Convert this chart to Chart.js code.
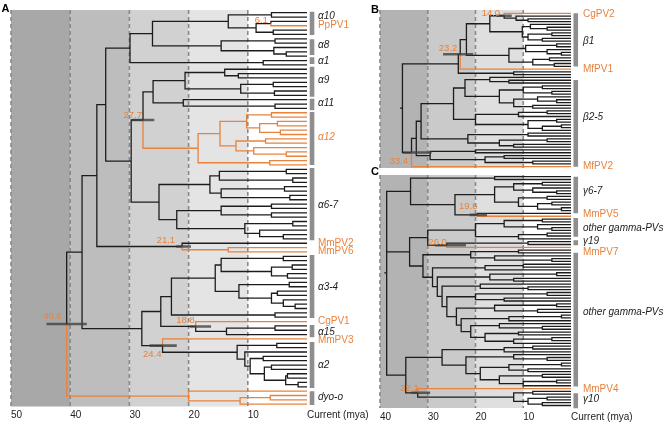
<!DOCTYPE html>
<html><head><meta charset="utf-8">
<script src="https://cdn.jsdelivr.net/npm/chart.js@4.4.1/dist/chart.umd.min.js"></script>
<style>
html,body{margin:0;padding:0;background:#fff;}
#wrap{position:relative;width:666px;height:422px;}
canvas{position:absolute;left:0;top:0;width:666px;height:422px;}
</style></head><body>
<div id="wrap">
<canvas id="cA" width="666" height="422"></canvas>
<canvas id="cB" width="666" height="422"></canvas>
<canvas id="cC" width="666" height="422"></canvas>
</div>
<script>
// ================= DATA =================
// Newick-like subtrees: a = leaf, o = highlighted (orange) leaf,
// number after ')' = node age (mya), '*' = dated node shown with its age.
const A_a10  = "((a,a)6.0,((a,o)6.1*,(a,a)5.7)8.6)13.3";
const A_a8   = "((a,a)5.4,(a,(a,a)3.5)5.6)14.5";
const A_a1   = "(a,a)7.4";
const A_a9   = "((a,(a,a)11.6)13.9,((a,a)5.7,(a,a)5.5)11.2)20.6";
const A_a11  = "(a,(a,a)5.4)20.9";
const A_a12  = "((((o,o)6,((o,o)5,(o,o)4.5)8)10.2,((o,o)7,(o,(o,o)3.5)9)12)14.7,(o,o)6.3)18.4";
const A_a67  = "((((a,a)3.5,(a,a)2.4)14.8,((a,a)3.8,(a,a)2.9)14.5)16.4,(((a,a)6,(a,a)6)14.5,((a,a)2.4,(a,(a,a)4)8)10.5)22)25";
const A_mm26 = "(a,(o,o)13.3)21.1*";
const A_a34  = "((((a,a)4,((a,a)2.5,(a,a)3.3)6)14.5,((a,a)3,((a,a)5,(a,(a,a)2)4)6)11.5)15.5,(a,a)5.4)22.9";
const A_cg1  = "(o,((a,a)5.4,a)13.6)18.8*";
const A_a2   = "((a,a)5.1,(a,((a,a)7.4,((a,a)6,((a,a)3.3,(a,a)1.5)3.6)7.2)9.6)10.5)11.8";
const A_dyo  = "(o,((o,o)6.2,o)11.3)20";
const treeA = `((((((${A_a10},${A_a8})26.1,${A_a1})29.9,(((${A_a9},${A_a11})26.0,${A_a12})27.7*,${A_a67})29.7)34.0,${A_mm26})35.5,((${A_a34},${A_cg1})24.7,(o,${A_a2})24.4*)27.9)38.0,${A_dyo})40.6*`;

const B_b1top = "((o,(a,(a,a)9)11.5)14.0*,((a,(a,a)5)8.5,((a,a)4,(a,a)6)9)10.2)17";
const B_b1bot = "(((a,a)3,(a,(a,a)2)5)9.5,((a,a)4.5,(a,a)3.5)8)13";
const B_bx    = "(a,a)12";
const B_n22   = "((a,(a,a)13)17,(((a,a)6,(a,a)4)10,((a,(a,a)3)7,(a,a)8)12)15)22.2";
const B_x20   = "(((a,a)5,a)11,((a,a)3,((a,a)2,a)6)9)20";
const B_k21   = "((a,a)9,((a,a)5,(a,a)12)15)21.6";
const B_bot   = "((a,a)20,((a,a)14,(a,a)8)18)29.5";
const treeB = `((((${B_b1top},${B_b1bot})21.9,o)23.2*,${B_bx})23.6,((((${B_n22},${B_x20})24.6,${B_k21})31.4,${B_bot})32.4,o)33.4*)35.3`;

const C_cu    = "((a,a)16,((((a,a)6,(a,(a,a)3)8)12,((a,a)5,((a,a)4,(a,a)2)7)11)16,(a,o)19.6*)24.3)33.6";
const C_oth   = "(((a,a)6,(a,(a,a)4)7)14,((a,a)5,a)11)20";
const C_g1    = `(${C_oth},((a,a)9,o)26.0*)30`;
// ladder of gamma-PV lineages (top to bottom) and the ages of the ladder nodes
const C_ladderClades = ["((a,a)11,(a,(a,a)4)16)21","((a,a)10,a)18","((a,a)3,(a,a)12)17","(a,(a,a)9)19","((a,a)5,(a,a)14)20",
                        "((a,a)3,(a,a)7)16","((a,a)2,a)13","(a,(a,a)6)15","(a,a)11","((a,a)4,a)12"];
const C_ladderAges   = [31,29,28,27,26,24,23,21,18];
const C_bm    = "(((a,a)8,a)14,((a,(a,a)5)12,(((a,a)2,(a,a)9)13,((a,a)6,((a,a)3,a)10)15)19)22)27";
const C_g10   = "((a,a)8,((a,a)5,(a,a)6)9)12";

// time axis
const ticksA = [50,40,30,20,10,0];
const tickLabelsA = ['50','40','30','20','10','Current (mya)'];
const ticksBC = [40,30,20,10,0];
const tickLabelsBC = ['40','30','20','10','Current (mya)'];

// dated nodes: age label, 95% HPD (older, younger)
const datedA = ['40.6','27.7','24.4','21.1','18.8','6.1'];
const hpdHiA = [44.0,29.6,26.6,22.1,19.8,null];
const hpdLoA = [37.2,25.8,22.0,19.6,16.2,null];
const datedB = ['14.0','23.2','33.4'];
const hpdHiB = [15.6,26.8,35.2];
const hpdLoB = [12.4,20.5,29.2];
const datedC = ['19.6','26.0','32.1'];
const hpdHiC = [21.2,28.5,33.4];
const hpdLoC = [17.6,22.0,29.5];

// group labels (position in leaf rows), kind: c = clade, p = highlighted PV, co = highlighted clade
const groupNamesA = ['α10','PpPV1','α8','α1','α9','α11','α12','α6-7','MmPV2','MmPV6','α3-4','CgPV1','α15','MmPV3','α2','dyo-o'];
const groupAtA    = [0.87,2.94,7.4,11.1,15.5,20.75,28.6,44.2,52.9,54.8,63.1,70.9,73.4,75.2,81,88.4];
const groupKindA  = ['c','p','c','c','c','c','co','c','p','p','c','p','c','p','c','c'];
const barFromA = [-0.23,6.1,10.25,12.4,19.8,22.8,35.7,55.7,71.8,75.7,87];
const barToA   = [5.13,9.7,11.8,19.3,22.4,35.0,52.3,70.2,74.6,86.3,90.2];

const groupNamesB = ['CgPV2','β1','MfPV1','β2-5','MfPV2'];
const groupAtB    = [0.25,9.9,20,37.2,54.7];
const groupKindB  = ['p','c','p','c','p'];
const barFromB = [0,23.9];
const barToB   = [19.1,55];

const groupNamesC = ['γ6-7','MmPV5','other gamma-PVs','γ19','MmPV7','other gamma-PVs','MmPV4','γ10'];
const groupAtC    = [5,13.4,18.3,23.0,26.9,47.8,75.3,78.8];
const groupKindC  = ['c','p','c','c','p','c','p','c'];
const barFromC = [0,14.6,22.5,26.9,76.7];
const barToC   = [12.96,21.3,24.3,74.3,82];

// ================= RENDERING =================
const ORANGE = '#e8823c', INK = '#1c1c1c', FONT = '"Liberation Sans", Arial, Helvetica, sans-serif';
Chart.defaults.font.family = FONT;

function ladder(clades, ages){
  let s = clades[clades.length-1];
  for (let k = clades.length-2; k >= 0; k--) s = `(${clades[k]},${s})${ages[k]}`;
  return s;
}
const C_m2 = ladder(C_ladderClades, C_ladderAges);
const treeC = `(${C_cu},(${C_g1},${C_m2})33.8,(${C_bm},(o,${C_g10})32.1*)34.6)38.6`;

function parseTree(src){
  const s = src.replace(/\s+/g,'');
  let i = 0, n = 0;
  function node(){
    if (s[i] === '('){
      i++;
      const kids = [];
      for(;;){
        kids.push(node());
        if (s[i] === ','){ i++; continue; }
        if (s[i] === ')'){ i++; break; }
        throw new Error('bad tree at ' + i);
      }
      let num = '';
      while (i < s.length && /[0-9.]/.test(s[i])) num += s[i++];
      let dated = false;
      if (s[i] === '*'){ dated = true; i++; }
      return { kids, age: parseFloat(num), label: num, dated,
        y: kids.reduce((t,k)=>t+k.y,0)/kids.length,
        orange: kids.every(k=>k.orange) };
    }
    const c = s[i++];
    return { leaf:true, age:0, y:n++, orange: c === 'o' };
  }
  const root = node();
  root.count = n;
  return root;
}

function gap(){ return {x:null,y:null}; }

function buildMarks(root, dated, hi, lo, stem){
  const black=[], orange=[], hpd=[], datedNodes=[];
  (function walk(nd){
    if (nd.leaf) return;
    for (const k of nd.kids){
      const arr = k.orange ? orange : black;
      arr.push({x:nd.age,y:nd.y},{x:nd.age,y:k.y},{x:k.age,y:k.y},gap());
      walk(k);
    }
    if (nd.dated){
      const j = dated.indexOf(nd.label);
      datedNodes.push({node:nd, j});
      if (j >= 0 && hi[j] != null) hpd.push({x:hi[j],y:nd.y},{x:lo[j],y:nd.y},gap());
    }
  })(root);
  if (stem) (root.orange?orange:black).push({x:root.age+stem,y:root.y},{x:root.age,y:root.y},gap());
  return {black, orange, hpd, datedNodes};
}

function makePanel(cfg){
  const root = parseTree(cfg.tree);
  const m = buildMarks(root, cfg.dated, cfg.hpdHi, cfg.hpdLo, cfg.rootStem);
  const bars = [];
  cfg.barFrom.forEach((f,i)=>bars.push({x:cfg.barX,y:f},{x:cfg.barX,y:cfg.barTo[i]},gap()));

  const deco = {
    id: 'deco' + cfg.canvas,
    beforeDatasetsDraw(chart){
      const {ctx, chartArea:a, scales:{x}} = chart;
      ctx.save();
      cfg.eras.forEach((e,i)=>{
        const x1 = x.getPixelForValue(e[0]), x2 = x.getPixelForValue(e[1]);
        ctx.fillStyle = cfg.eraCols[i];
        ctx.fillRect(x1, a.top, x2-x1, a.bottom-a.top);
      });
      ctx.strokeStyle = '#898989'; ctx.lineWidth = 1.6; ctx.setLineDash([4,3]);
      cfg.dashes.forEach(v=>{
        const px = x.getPixelForValue(v);
        ctx.beginPath(); ctx.moveTo(px, a.top); ctx.lineTo(px, a.bottom); ctx.stroke();
      });
      ctx.restore();
    },
    afterDatasetsDraw(chart){
      const {ctx, scales:{x,y}} = chart;
      ctx.save();
      ctx.textBaseline = 'middle'; ctx.textAlign = 'left';
      cfg.groupNames.forEach((t,i)=>{
        const k = cfg.groupKind[i];
        ctx.font = (k === 'p' ? '' : 'italic ') + '10px ' + FONT;
        ctx.fillStyle = k === 'c' ? INK : ORANGE;
        ctx.fillText(t, x.getPixelForValue(cfg.labelX), y.getPixelForValue(cfg.groupAt[i]));
      });
      ctx.font = '9.5px ' + FONT; ctx.fillStyle = ORANGE; ctx.textAlign = 'right';
      m.datedNodes.forEach(({node,j})=>{
        const off = cfg.datedOff[j] || [0,0];
        ctx.fillText(node.label, x.getPixelForValue(node.age)+off[0], y.getPixelForValue(node.y)+off[1]);
      });
      cfg.letters.forEach(L=>{
        ctx.font = 'bold 11px ' + FONT; ctx.fillStyle = '#000'; ctx.textAlign = 'left'; ctx.textBaseline = 'alphabetic';
        ctx.fillText(L.t, L.x, L.y);
      });
      ctx.restore();
    }
  };

  const xScale = {
    type:'linear', reverse:true, min:0, max:cfg.xmax,
    display: !!cfg.ticks,
    grid:{display:false, drawTicks:false}, border:{display:false},
    ticks:{ autoSkip:false, maxRotation:0, minRotation:0, align:'start', padding:3, color:'#222', font:{size:10, family:FONT},
      callback:(v)=>{ const k = cfg.ticks ? cfg.ticks.indexOf(v) : -1; return k>=0 ? cfg.tickLabels[k] : ''; } },
    afterBuildTicks:(s)=>{ if (cfg.ticks) s.ticks = cfg.ticks.map(v=>({value:v})); },
    afterFit:(s)=>{ if (cfg.axisH) s.height = cfg.axisH; }
  };

  return new Chart(document.getElementById(cfg.canvas), {
    type:'line',
    data:{ datasets:[
      {data:m.hpd, borderColor:'rgba(62,62,62,0.78)', borderWidth:2.6, pointRadius:0},
      {data:bars, borderColor:'#8e8e8e', borderWidth:4.6, pointRadius:0, clip:false},
      {data:m.orange, borderColor:ORANGE, borderWidth:1.3, pointRadius:0},
      {data:m.black, borderColor:INK, borderWidth:1.3, pointRadius:0}
    ]},
    options:{
      responsive:false, animation:false, devicePixelRatio:1, events:[],
      layout:{padding:cfg.pad},
      plugins:{legend:{display:false}, tooltip:{enabled:false}},
      elements:{ line:{tension:0, fill:false, borderJoinStyle:'miter', borderCapStyle:'butt', spanGaps:false}, point:{radius:0} },
      scales:{ x:xScale, y:{type:'linear', display:false, reverse:true, min:cfg.ymin, max:cfg.ymax} }
    },
    plugins:[deco]
  });
}

makePanel({ canvas:'cA', tree:treeA, xmax:50, ymin:-0.62, ymax:90.53,
  pad:{left:11,right:359,top:10,bottom:0}, axisH:15.5, ticks:ticksA, tickLabels:tickLabelsA,
  eras:[[50,40],[40,30],[30,20],[20,10]], eraCols:['#a8a8a8','#bdbdbd','#d1d1d1','#e4e4e4'], dashes:[50,40,30,20,10],
  dated:datedA, hpdHi:hpdHiA, hpdLo:hpdLoA, datedOff:[[-5,-7.5],[-1,-5],[-1,8.5],[-7,-6.5],[-1,-6.5],[-3,-3.6]],
  groupNames:groupNamesA, groupAt:groupAtA, groupKind:groupKindA, barFrom:barFromA, barTo:barToA,
  barX:-0.85, labelX:-1.85, rootStem:0, letters:[{t:'A',x:1.5,y:11.5}] });

makePanel({ canvas:'cB', tree:treeB, xmax:40, ymin:-1.18, ymax:55.47,
  pad:{left:380,right:95,top:10,bottom:254}, axisH:0, ticks:null, tickLabels:null,
  eras:[[40,30],[30,20],[20,10]], eraCols:['#b3b3b3','#cacaca','#dfdfdf'], dashes:[40,30,20,10],
  dated:datedB, hpdHi:hpdHiB, hpdLo:hpdLoB, datedOff:[[-4,-2.5],[-3,-5.5],[-3.5,9]],
  groupNames:groupNamesB, groupAt:groupAtB, groupKind:groupKindB, barFrom:barFromB, barTo:barToB,
  barX:-1.0, labelX:-2.5, rootStem:0.5, letters:[{t:'B',x:371,y:13}] });

makePanel({ canvas:'cC', tree:treeC, xmax:40, ymin:-0.6, ymax:81.88,
  pad:{left:380,right:95,top:175,bottom:0}, axisH:14, ticks:ticksBC, tickLabels:tickLabelsBC,
  eras:[[40,30],[30,20],[20,10]], eraCols:['#b3b3b3','#cacaca','#dfdfdf'], dashes:[40,30,20,10],
  dated:datedC, hpdHi:hpdHiC, hpdLo:hpdLoC, datedOff:[[0,-8],[0,-3],[1,-4]],
  groupNames:groupNamesC, groupAt:groupAtC, groupKind:groupKindC, barFrom:barFromC, barTo:barToC,
  barX:-1.0, labelX:-2.5, rootStem:0.5, letters:[{t:'C',x:371,y:175}] });
</script>
</body></html>
